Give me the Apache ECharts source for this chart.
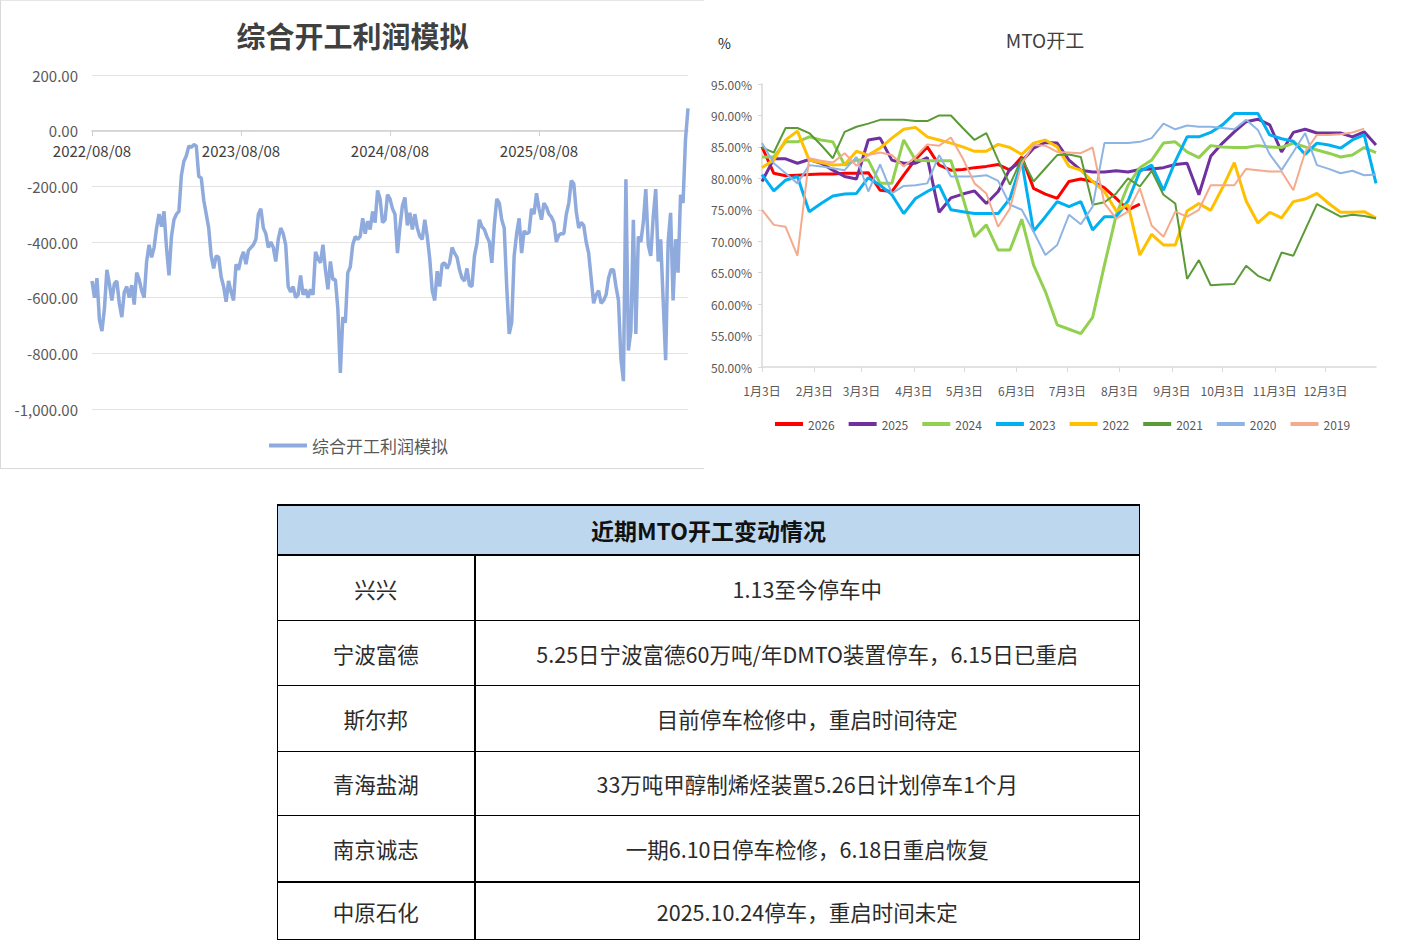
<!DOCTYPE html>
<html>
<head>
<meta charset="utf-8">
<script src="https://cdn.jsdelivr.net/npm/echarts@6.0.0/dist/echarts.min.js"></script>
<style>
html,body{margin:0;padding:0;background:#fff;width:1413px;height:941px;overflow:hidden;font-family:'Noto Sans CJK SC','Noto Sans',sans-serif;}
#left{position:absolute;left:0;top:0;width:705px;height:470px;}
#leftBorder{position:absolute;left:0;top:0;width:704px;height:469px;border-left:1px solid #d9d9d9;border-top:1px solid #e6e6e6;border-bottom:1px solid #d9d9d9;box-sizing:border-box;pointer-events:none;}
#right{position:absolute;left:705px;top:0;width:680px;height:470px;}
#tbl{position:absolute;left:277px;top:504px;width:862px;border-collapse:collapse;table-layout:fixed;}
#tbl td{border:1px solid #000;text-align:center;vertical-align:middle;color:#2b2b2b;font-size:21.5px;padding:0;white-space:nowrap;}
#tbl tr.hd td{background:#BDD7EE;font-weight:bold;font-size:23px;color:#111;border-top:2px solid #000;border-bottom:2px solid #000;height:48px;}
#tbl td.c1{border-right:2px solid #000;}
#tbl tr:nth-child(2) td{height:64px;}
#tbl tr:nth-child(3) td{height:64px;}
#tbl tr:nth-child(4) td{height:65px;}
#tbl tr:nth-child(5) td{height:63px;}
#tbl tr:nth-child(6) td{height:65px;}
#tbl tr:nth-child(7) td{height:56px;border-top:2px solid #000;}
</style>
</head>
<body>
<div id="left"></div>
<div id="leftBorder"></div>
<div id="right"></div>
<table id="tbl"><colgroup><col style="width:197px"><col style="width:665px"></colgroup><tbody id="tbody"></tbody></table>
<script>
// ---------- Chart 1: 综合开工利润模拟 ----------
const profitTickLabels = ['2022/08/08', '2023/08/08', '2024/08/08', '2025/08/08'];
const profitTickIndex = [0, 60, 120, 180];
const profitValues = [
  -540, -600, -530, -680, -720, -640, -500, -550, -610, -550,
  -540, -620, -670, -580, -560, -600, -555, -625, -510, -535,
  -575, -600, -470, -410, -455, -420, -350, -300, -345, -290,
  -420, -520, -380, -320, -300, -290, -160, -110, -90, -55,
  -60, -50, -55, -165, -170, -250, -300, -350, -450, -495,
  -450, -455, -525, -560, -615, -540, -580, -610, -480, -500,
  -460, -435, -480, -430, -420, -410, -390, -300, -280, -350,
  -370, -420, -400, -420, -470, -390, -350, -370, -410, -560,
  -580, -560, -600, -590, -520, -590, -570, -600, -570, -590,
  -435, -460, -475, -410, -500, -570, -470, -535, -535, -640,
  -870, -670, -690, -510, -490, -410, -380, -390, -380, -315,
  -370, -325, -355, -290, -330, -215, -245, -330, -320, -230,
  -245, -280, -300, -440, -345, -270, -240, -340, -295, -355,
  -300, -350, -380, -390, -320, -380, -460, -575, -610, -505,
  -560, -480, -475, -495, -475, -420, -440, -455, -500, -530,
  -540, -495, -555, -560, -450, -405, -320, -345, -355, -380,
  -400, -475, -340, -245, -260, -320, -350, -560, -730, -690,
  -450, -370, -315, -440, -360, -370, -365, -280, -300, -225,
  -280, -320, -260, -275, -300, -310, -330, -400, -375, -370,
  -370, -300, -260, -180, -190, -290, -350, -330, -340, -400,
  -440, -530, -620, -590, -575, -620, -610, -590, -530, -500,
  -500, -560, -610, -820, -900, -175, -790, -720, -320, -730,
  -380, -400, -330, -210, -410, -450, -310, -210, -470, -390,
  -610, -825, -400, -295, -610, -390, -510, -230, -260, -30,
  80
];
const profitName = '综合开工利润模拟';

// ---------- Chart 2: MTO开工 ----------
const mtoTickLabels = ['1月3日', '2月3日', '3月3日', '4月3日', '5月3日', '6月3日', '7月3日', '8月3日', '9月3日', '10月3日', '11月3日', '12月3日'];
const mtoTickDays = [0, 31, 59, 90, 120, 151, 181, 212, 243, 273, 304, 334];
const mtoYears = ['2026', '2025', '2024', '2023', '2022', '2021', '2020', '2019'];
const mto2026 = [85.0, 80.8, 80.4, 80.5, 80.6, 80.7, 80.7, 80.8, 80.8, 80.9, 78.1, 77.9, 80.5, 83.0, 85.0, 82.1, 81.3, 81.4, 81.7, 81.9, 82.2, 81.3, 83.4, 78.4, 77.5, 76.8, 79.5, 79.9, 79.5, 78.5, 76.8, 75.0, 75.9];
const mto2025 = [79.5, 83.1, 83.1, 82.4, 83.0, 82.4, 81.3, 80.3, 79.9, 86.1, 86.4, 82.9, 82.4, 82.4, 83.3, 74.6, 76.9, 77.5, 78.0, 76.0, 77.9, 81.5, 82.7, 84.8, 85.7, 85.6, 82.9, 81.3, 81.0, 81.0, 81.2, 81.0, 81.4, 81.5, 81.7, 82.2, 82.4, 77.4, 83.5, 85.6, 87.4, 89.0, 89.4, 88.5, 84.2, 87.3, 87.8, 87.2, 87.2, 87.2, 86.6, 87.4, 85.3];
const mto2024 = [83.4, 83.4, 85.8, 85.8, 86.6, 86.1, 85.8, 82.1, 82.9, 82.9, 79.2, 79.2, 86.1, 82.9, 82.8, 82.8, 82.8, 77.0, 70.7, 72.6, 68.6, 68.6, 73.5, 66.2, 62.0, 56.7, 56.0, 55.3, 57.9, 66.2, 74.2, 78.9, 81.7, 82.9, 85.6, 85.8, 84.2, 83.3, 85.2, 85.0, 84.9, 84.9, 85.2, 85.0, 84.9, 85.6, 85.0, 84.5, 84.0, 83.4, 83.7, 84.9, 84.1];
const mto2023 = [80.6, 78.0, 79.7, 80.3, 74.7, 76.0, 77.2, 77.5, 77.6, 80.1, 78.9, 77.4, 74.4, 76.8, 77.9, 78.9, 75.0, 74.7, 74.4, 74.4, 74.4, 76.8, 82.7, 71.6, 73.9, 76.3, 75.5, 76.3, 71.8, 73.9, 73.9, 76.4, 81.1, 82.1, 78.1, 82.7, 86.6, 86.6, 87.3, 88.5, 90.3, 90.3, 90.3, 86.9, 86.3, 85.9, 83.8, 85.6, 85.3, 84.8, 86.1, 86.9, 79.2];
const mto2022 = [81.7, 82.9, 86.1, 87.5, 82.9, 82.5, 82.1, 82.2, 84.3, 83.7, 84.8, 86.4, 87.8, 88.1, 86.6, 86.1, 85.6, 85.0, 84.3, 84.3, 85.4, 84.9, 83.8, 85.6, 86.1, 85.0, 81.9, 81.3, 79.5, 77.9, 74.8, 75.8, 67.8, 71.1, 69.4, 69.4, 74.8, 76.0, 74.9, 78.5, 82.5, 76.4, 72.9, 74.6, 73.7, 76.3, 76.7, 77.6, 76.0, 74.6, 74.6, 74.7, 73.7];
const mto2021 = [84.9, 84.1, 88.0, 88.0, 87.2, 85.3, 83.2, 87.4, 88.2, 88.7, 89.3, 89.3, 89.3, 89.1, 89.1, 90.0, 90.0, 88.0, 86.1, 87.2, 82.9, 79.0, 83.2, 79.5, 81.6, 83.7, 83.8, 83.4, 75.8, 76.2, 77.6, 80.0, 78.7, 81.2, 77.4, 76.0, 64.0, 67.0, 63.0, 63.1, 63.2, 66.1, 64.5, 63.7, 68.2, 67.7, 71.8, 75.9, 74.9, 73.9, 74.2, 74.0, 73.6];
const mto2020 = [85.6, 82.4, 80.8, 79.2, 82.1, 81.9, 81.6, 81.3, 83.4, 77.9, 82.2, 77.6, 78.8, 78.9, 79.2, 83.7, 80.3, 80.3, 80.3, 80.5, 79.6, 75.8, 75.0, 71.5, 67.8, 69.4, 74.2, 72.7, 75.5, 85.6, 85.6, 85.6, 85.8, 86.4, 88.7, 87.8, 88.4, 88.2, 88.2, 88.0, 87.8, 89.3, 87.7, 83.8, 81.3, 84.2, 87.2, 82.1, 81.5, 80.8, 81.2, 80.5, 80.6];
const mto2019 = [75.0, 72.6, 72.3, 67.7, 83.2, 82.8, 82.5, 84.0, 82.0, 83.7, 84.1, 83.7, 81.9, 83.4, 85.4, 85.2, 86.5, 83.2, 79.2, 77.6, 72.3, 75.2, 82.4, 85.3, 85.2, 84.2, 84.1, 84.0, 84.9, 76.0, 73.6, 74.7, 78.4, 72.5, 70.7, 74.7, 73.9, 75.0, 78.9, 78.9, 78.9, 81.5, 81.3, 81.1, 81.1, 78.1, 84.2, 86.9, 86.9, 87.0, 87.3, 87.9];
const mtoValues = [mto2026, mto2025, mto2024, mto2023, mto2022, mto2021, mto2020, mto2019];
const daysPerReading = 7; // weekly readings

// ---------- Table ----------
const tableTitle = '近期MTO开工变动情况';
const plantNames = ['兴兴', '宁波富德', '斯尔邦', '青海盐湖', '南京诚志', '中原石化'];
const plantStatus = [
  '1.13至今停车中',
  '5.25日宁波富德60万吨/年DMTO装置停车，6.15日已重启',
  '目前停车检修中，重启时间待定',
  '33万吨甲醇制烯烃装置5.26日计划停车1个月',
  '一期6.10日停车检修，6.18日重启恢复',
  '2025.10.24停车，重启时间未定'
];

// ---------- styles ----------
const mtoColors = ['#FF0000', '#7030A0', '#92D050', '#00B0F0', '#FFC000', '#5A9A37', '#8EB4E3', '#F4AA8C'];
const mtoWidths = [3, 3, 3, 3, 3, 2, 2, 2];
const cjk = "'Noto Sans CJK SC', 'Noto Sans', sans-serif";

// ---------- build chart 1 ----------
const c1 = echarts.init(document.getElementById('left'), null, {renderer: 'svg'});
c1.setOption({
  animation: false,
  backgroundColor: '#fff',
  title: {
    text: profitName, left: 'center', top: 15,
    textStyle: {fontFamily: cjk, fontSize: 29, fontWeight: 'bold', color: '#404040'}
  },
  legend: {
    data: [profitName], left: 264, top: 432, icon: 'rect', itemWidth: 38, itemHeight: 4,
    textStyle: {fontFamily: cjk, fontSize: 17, color: '#595959'}
  },
  grid: {left: 92, right: 17, top: 75, bottom: 61, containLabel: false},
  xAxis: {
    type: 'value', min: 0, max: 240, offset: -278,
    axisLine: {show: true, onZero: false, lineStyle: {color: '#d0d0d0', width: 1.5}},
    axisTick: {show: true, length: 5, customValues: profitTickIndex, lineStyle: {color: '#d0d0d0'}},
    axisLabel: {
      customValues: profitTickIndex, margin: 12, fontFamily: cjk, fontSize: 15, color: '#404040',
      formatter: v => { const k = profitTickIndex.indexOf(v); return k >= 0 ? profitTickLabels[k] : ''; }
    },
    splitLine: {show: false}
  },
  yAxis: {
    type: 'value', min: -1000, max: 200, interval: 200,
    axisLine: {show: false}, axisTick: {show: false},
    axisLabel: {
      margin: 14, fontFamily: cjk, fontSize: 15, color: '#595959',
      formatter: v => v.toLocaleString('en-US', {minimumFractionDigits: 2, maximumFractionDigits: 2})
    },
    splitLine: {lineStyle: {color: '#e3e3e3', width: 1}}
  },
  series: [{
    name: profitName, type: 'line', showSymbol: false, symbol: 'none',
    data: profitValues.map((v, i) => [i, v]),
    lineStyle: {color: '#8FAADC', width: 3.5},
    itemStyle: {color: '#8FAADC'}
  }]
});

// ---------- build chart 2 ----------
const c2 = echarts.init(document.getElementById('right'), null, {renderer: 'svg'});
c2.setOption({
  animation: false,
  backgroundColor: '#fff',
  title: [
    {text: 'MTO开工', left: 'center', top: 25, textStyle: {fontFamily: cjk, fontSize: 19, fontWeight: 'normal', color: '#404040'}},
    {text: '%', left: 8, top: 31, textStyle: {fontFamily: cjk, fontSize: 14, fontWeight: 'normal', color: '#222'}}
  ],
  legend: {
    data: mtoYears, left: 65, top: 413, icon: 'rect', itemWidth: 28, itemHeight: 4, itemGap: 14,
    textStyle: {fontFamily: cjk, fontSize: 12, color: '#595959'}
  },
  grid: {left: 57, right: 9, top: 84, bottom: 103, containLabel: false},
  xAxis: {
    type: 'value', min: 0, max: 364,
    axisLine: {show: true, lineStyle: {color: '#d9d9d9', width: 1.5}},
    axisTick: {show: true, length: 5, customValues: mtoTickDays, lineStyle: {color: '#d9d9d9'}},
    axisLabel: {
      customValues: mtoTickDays, margin: 17, fontFamily: cjk, fontSize: 12, color: '#595959',
      formatter: v => { const k = mtoTickDays.indexOf(v); return k >= 0 ? mtoTickLabels[k] : ''; }
    },
    splitLine: {show: false}
  },
  yAxis: {
    type: 'value', min: 50, max: 95, interval: 5,
    axisLine: {show: true, lineStyle: {color: '#d9d9d9', width: 1.5}},
    axisTick: {show: true, length: 4, lineStyle: {color: '#d9d9d9'}},
    axisLabel: {margin: 10, fontFamily: cjk, fontSize: 12, color: '#595959', formatter: v => v.toFixed(2) + '%'},
    splitLine: {show: false}
  },
  series: mtoYears.map((y, k) => ({
    name: y, type: 'line', showSymbol: false, symbol: 'none', connectNulls: true,
    data: mtoValues[k].map((v, i) => [i * daysPerReading, v]),
    lineStyle: {color: mtoColors[k], width: mtoWidths[k]},
    itemStyle: {color: mtoColors[k]}
  }))
});

// ---------- build table ----------
const tbody = document.getElementById('tbody');
let html = '<tr class="hd"><td colspan="2">' + tableTitle + '</td></tr>';
plantNames.forEach((n, i) => {
  html += '<tr><td class="c1">' + n + '</td><td>' + plantStatus[i] + '</td></tr>';
});
tbody.innerHTML = html;
</script>
</body>
</html>
